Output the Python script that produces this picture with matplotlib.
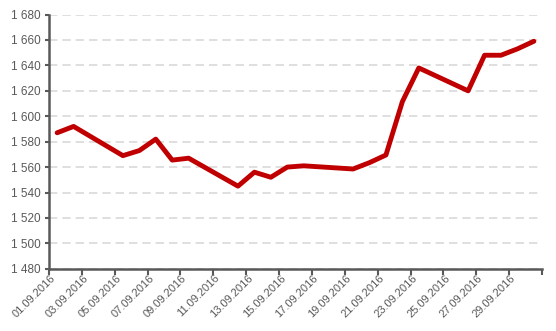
import matplotlib
matplotlib.use('Agg')
from matplotlib import pyplot as plt
from matplotlib.ticker import FuncFormatter
import numpy as np

# trading days of September 2016 (weekends are skipped, line joins across them)
days = [1, 2, 5, 6, 7, 8, 9, 12, 13, 14, 15, 16, 19, 20, 21, 22, 23, 26, 27, 28, 29, 30]
values = [1587, 1592, 1569, 1573, 1582, 1565.5, 1567, 1545, 1556, 1552, 1560, 1561,
          1558.5, 1563.5, 1569.5, 1611.5, 1638, 1620, 1648, 1648, 1653, 1659]

label_days = list(range(1, 31, 2))
date_labels = ['%02d.09.2016' % d for d in label_days]

grey = '#595959'

plt.rcParams['font.family'] = ['Liberation Sans', 'DejaVu Sans']

fig = plt.figure(figsize=(5.56, 3.31), dpi=100)
ax = fig.add_axes([0.088, 0.188, 0.887, 0.768])

ax.plot(days, values, color='#C00000', linewidth=3.5, solid_joinstyle='round',
        solid_capstyle='round', zorder=3)

ax.set_xlim(0.5, 30.5)
ax.set_ylim(1480, 1680)
ax.set_yticks(np.arange(1480, 1681, 20))
ax.yaxis.set_major_formatter(FuncFormatter(lambda v, p: '{:,.0f}'.format(v).replace(',', ' ')))

# tick marks sit on the category borders, labels on the category centres
ax.set_xticks(np.arange(0.5, 31, 2))
ax.set_xticklabels([])
ax.set_xticks(label_days, minor=True)
ax.set_xticklabels(date_labels, minor=True, rotation=45, ha='right', va='top')

ax.tick_params(axis='x', which='major', length=4, width=1.5, color=grey)
ax.tick_params(axis='x', which='minor', length=0, pad=3, labelsize=8, labelcolor=grey)
ax.tick_params(axis='y', length=3, width=1.5, color=grey, labelsize=8.5, labelcolor=grey, pad=3)

ax.yaxis.grid(True, color='#d9d9d9', linewidth=1.2, linestyle=(0, (5, 3)))
ax.set_axisbelow(True)

for side in ['top', 'right']:
    ax.spines[side].set_visible(False)
for side in ['left', 'bottom']:
    ax.spines[side].set_color(grey)
    ax.spines[side].set_linewidth(1.8)

plt.savefig('out.png', dpi=100)
plt.close(fig)
